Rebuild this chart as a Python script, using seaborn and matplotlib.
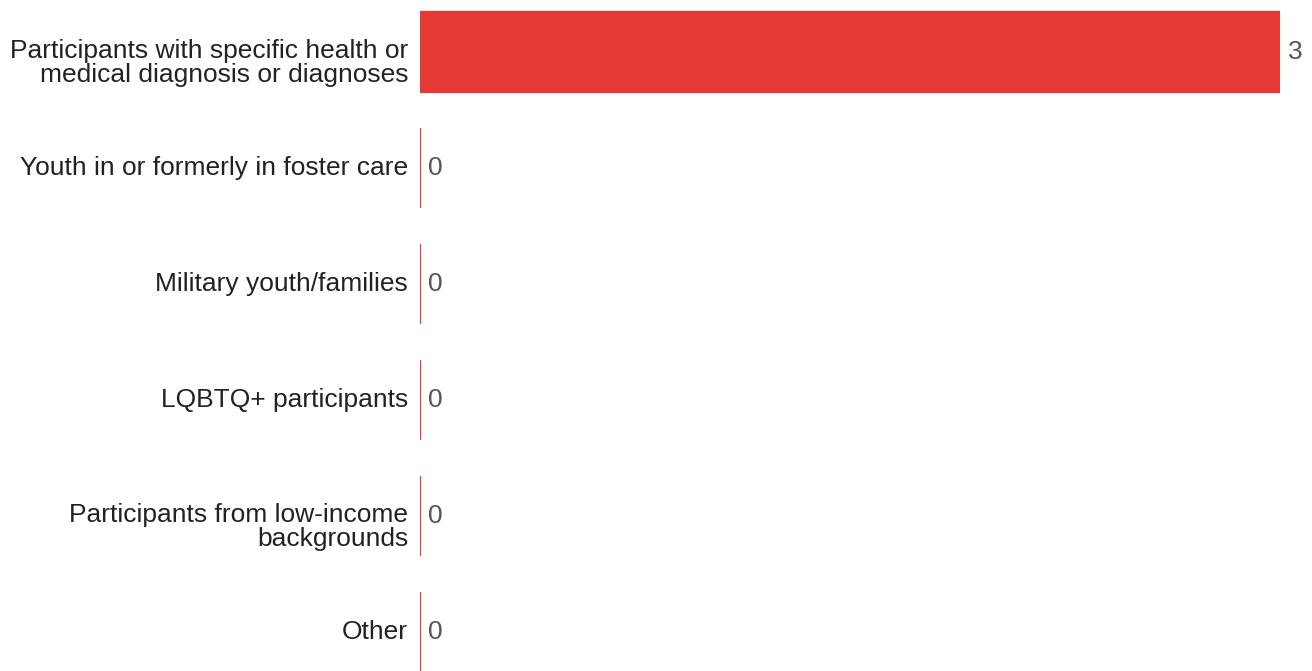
import matplotlib
matplotlib.use("Agg")
import matplotlib.pyplot as plt
import seaborn as sns
import pandas as pd

# Chart data
categories = [
    "Participants with specific health or\nmedical diagnosis or diagnoses",
    "Youth in or formerly in foster care",
    "Military youth/families",
    "LQBTQ+ participants",
    "Participants from low-income\nbackgrounds",
    "Other",
]
counts = [3, 0, 0, 0, 0, 0]

df = pd.DataFrame({"Category": categories, "Count": counts})

sns.set_theme(style="white")
plt.rcParams["font.family"] = ["Liberation Sans", "DejaVu Sans"]

fig = plt.figure(figsize=(13.12, 6.71), dpi=100)
ax = fig.add_axes([420 / 1312, 0, 860 / 1312, 1])

bar_color = "#E53935"
sns.barplot(data=df, x="Count", y="Category", color=bar_color, saturation=1,
            width=0.685, edgecolor=bar_color, linewidth=1.6, ax=ax)

ax.set_xlim(0, 3)
ax.set_ylim(5.336, -0.448)
ax.set_xlabel("")
ax.set_ylabel("")
ax.set_xticks([])
for s in ax.spines.values():
    s.set_visible(False)
ax.tick_params(axis="y", length=0, labelleft=False)

# Category labels (two-line ones sit a little lower, first line near bar centre)
for i, cat in enumerate(categories):
    dy = -8 if "\n" in cat else 0
    ax.annotate(cat, xy=(0, i), xytext=(-8.5, dy), textcoords="offset points",
                va="center", ha="right", multialignment="right", linespacing=1.0,
                fontsize=19, color="#222222", annotation_clip=False)

# Value labels
for i, v in enumerate(counts):
    ax.annotate(str(v), xy=(v, i), xytext=(5.5, 0), textcoords="offset points",
                va="center", ha="left", fontsize=19, color="#555555",
                annotation_clip=False)

fig.savefig("out.png", dpi=100)
